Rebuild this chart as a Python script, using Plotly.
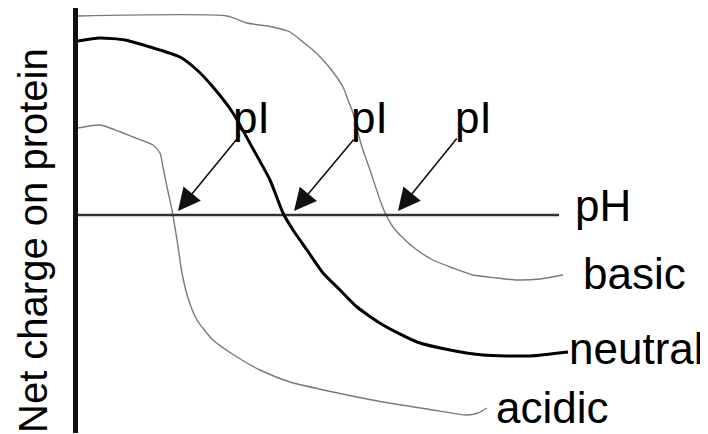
import plotly.graph_objects as go

# Schematic: net charge on protein vs pH (arbitrary units; y = 0 is the pH axis)
basic_x = [78, 227, 247, 273, 290, 303, 313, 323, 333, 343, 348, 353, 358, 362, 370, 380, 386, 393, 403, 417, 433, 453, 473, 497, 517, 540, 563]
basic_py = [16, 16, 23, 27, 32, 42, 50, 60, 72, 87, 100, 113, 133, 147, 170, 200, 215, 227, 238, 250, 260, 268, 275, 278, 280, 279, 275]

neutral_x = [78, 100, 125, 150, 180, 197, 213, 233, 252, 270, 283, 293, 307, 323, 340, 357, 383, 417, 450, 483, 530, 568]
neutral_py = [41, 38, 40, 47, 57, 70, 87, 113, 147, 180, 213, 230, 250, 273, 290, 307, 325, 342, 350, 355, 356, 352]

acidic_x = [78, 100, 133, 153, 160, 163, 167, 172, 177, 182, 188, 197, 213, 237, 260, 290, 333, 383, 433, 467, 478, 487]
acidic_py = [128, 125, 137, 145, 153, 167, 187, 210, 240, 273, 298, 320, 340, 357, 370, 382, 392, 402, 410, 415, 413, 408]

BASE = 215  # row of the pH axis in the original sketch
def to_charge(py):
    return [BASE - v for v in py]

basic_y = to_charge(basic_py)
neutral_y = to_charge(neutral_py)
acidic_y = to_charge(acidic_py)

# pI arrows: tail (label) -> tip (point on pH axis)
arrow_tail_x = [241, 355, 458]
arrow_tail_y = to_charge([134, 138, 137])
arrow_tip_x = [178, 294, 398]
arrow_tip_y = to_charge([211, 211, 211])

pI_label_x = [231, 349, 453]
pI_label_y = to_charge([117, 117, 117])

curve_labels = ["pH", "basic", "neutral", "acidic"]
curve_label_x = [573, 581, 567, 494]
curve_label_y = to_charge([205, 273, 348, 407])

yaxis_x = [75.5, 75.5]
yaxis_y = to_charge([8, 433])
ph_axis_x = [76, 559]
ph_axis_y = [0, 0]

FONT = "Liberation Sans, Arial, sans-serif"
PAGE_OFFSET = 8  # default body margin of the html page
W, H = 708 - PAGE_OFFSET, 434 - PAGE_OFFSET

fig = go.Figure()
fig.add_trace(go.Scatter(x=basic_x, y=basic_y, mode="lines",
                         line=dict(color="#7a7a7a", width=1.4, shape="spline", smoothing=0.6),
                         hoverinfo="skip", showlegend=False))
fig.add_trace(go.Scatter(x=acidic_x, y=acidic_y, mode="lines",
                         line=dict(color="#7a7a7a", width=1.4, shape="spline", smoothing=0.6),
                         hoverinfo="skip", showlegend=False))
fig.add_trace(go.Scatter(x=ph_axis_x, y=ph_axis_y, mode="lines",
                         line=dict(color="#333333", width=2.5),
                         hoverinfo="skip", showlegend=False))
fig.add_trace(go.Scatter(x=neutral_x, y=neutral_y, mode="lines",
                         line=dict(color="#000000", width=3, shape="spline", smoothing=0.6),
                         hoverinfo="skip", showlegend=False))
fig.add_trace(go.Scatter(x=yaxis_x, y=yaxis_y, mode="lines",
                         line=dict(color="#111111", width=5),
                         hoverinfo="skip", showlegend=False))

annotations = []
for tx, ty, hx, hy in zip(arrow_tail_x, arrow_tail_y, arrow_tip_x, arrow_tip_y):
    annotations.append(dict(x=hx, y=hy, ax=tx, ay=ty, xref="x", yref="y", axref="x", ayref="y",
                            text="", showarrow=True, arrowhead=2, arrowsize=2.8, arrowwidth=1.6,
                            arrowcolor="#111111", standoff=0))
for lx, ly in zip(pI_label_x, pI_label_y):
    annotations.append(dict(x=lx, y=ly, xref="x", yref="y", text="pI", showarrow=False,
                            xanchor="left", yanchor="middle",
                            font=dict(family=FONT, size=44, color="#000000")))
for t, lx, ly in zip(curve_labels, curve_label_x, curve_label_y):
    annotations.append(dict(x=lx, y=ly, xref="x", yref="y", text=t, showarrow=False,
                            xanchor="left", yanchor="middle",
                            font=dict(family=FONT, size=44, color="#000000")))
annotations.append(dict(x=33, y=BASE - 241, xref="x", yref="y", text="Net charge on protein",
                        showarrow=False, textangle=-90, xanchor="center", yanchor="middle",
                        font=dict(family=FONT, size=40, color="#000000")))

fig.update_layout(
    width=W, height=H,
    margin=dict(l=0, r=0, t=0, b=0),
    paper_bgcolor="white", plot_bgcolor="white",
    xaxis=dict(range=[PAGE_OFFSET, PAGE_OFFSET + W], visible=False, fixedrange=True),
    yaxis=dict(range=[BASE - PAGE_OFFSET - H, BASE - PAGE_OFFSET], visible=False, fixedrange=True),
    annotations=annotations,
)

fig.write_html("out.html", config={"displayModeBar": False})
